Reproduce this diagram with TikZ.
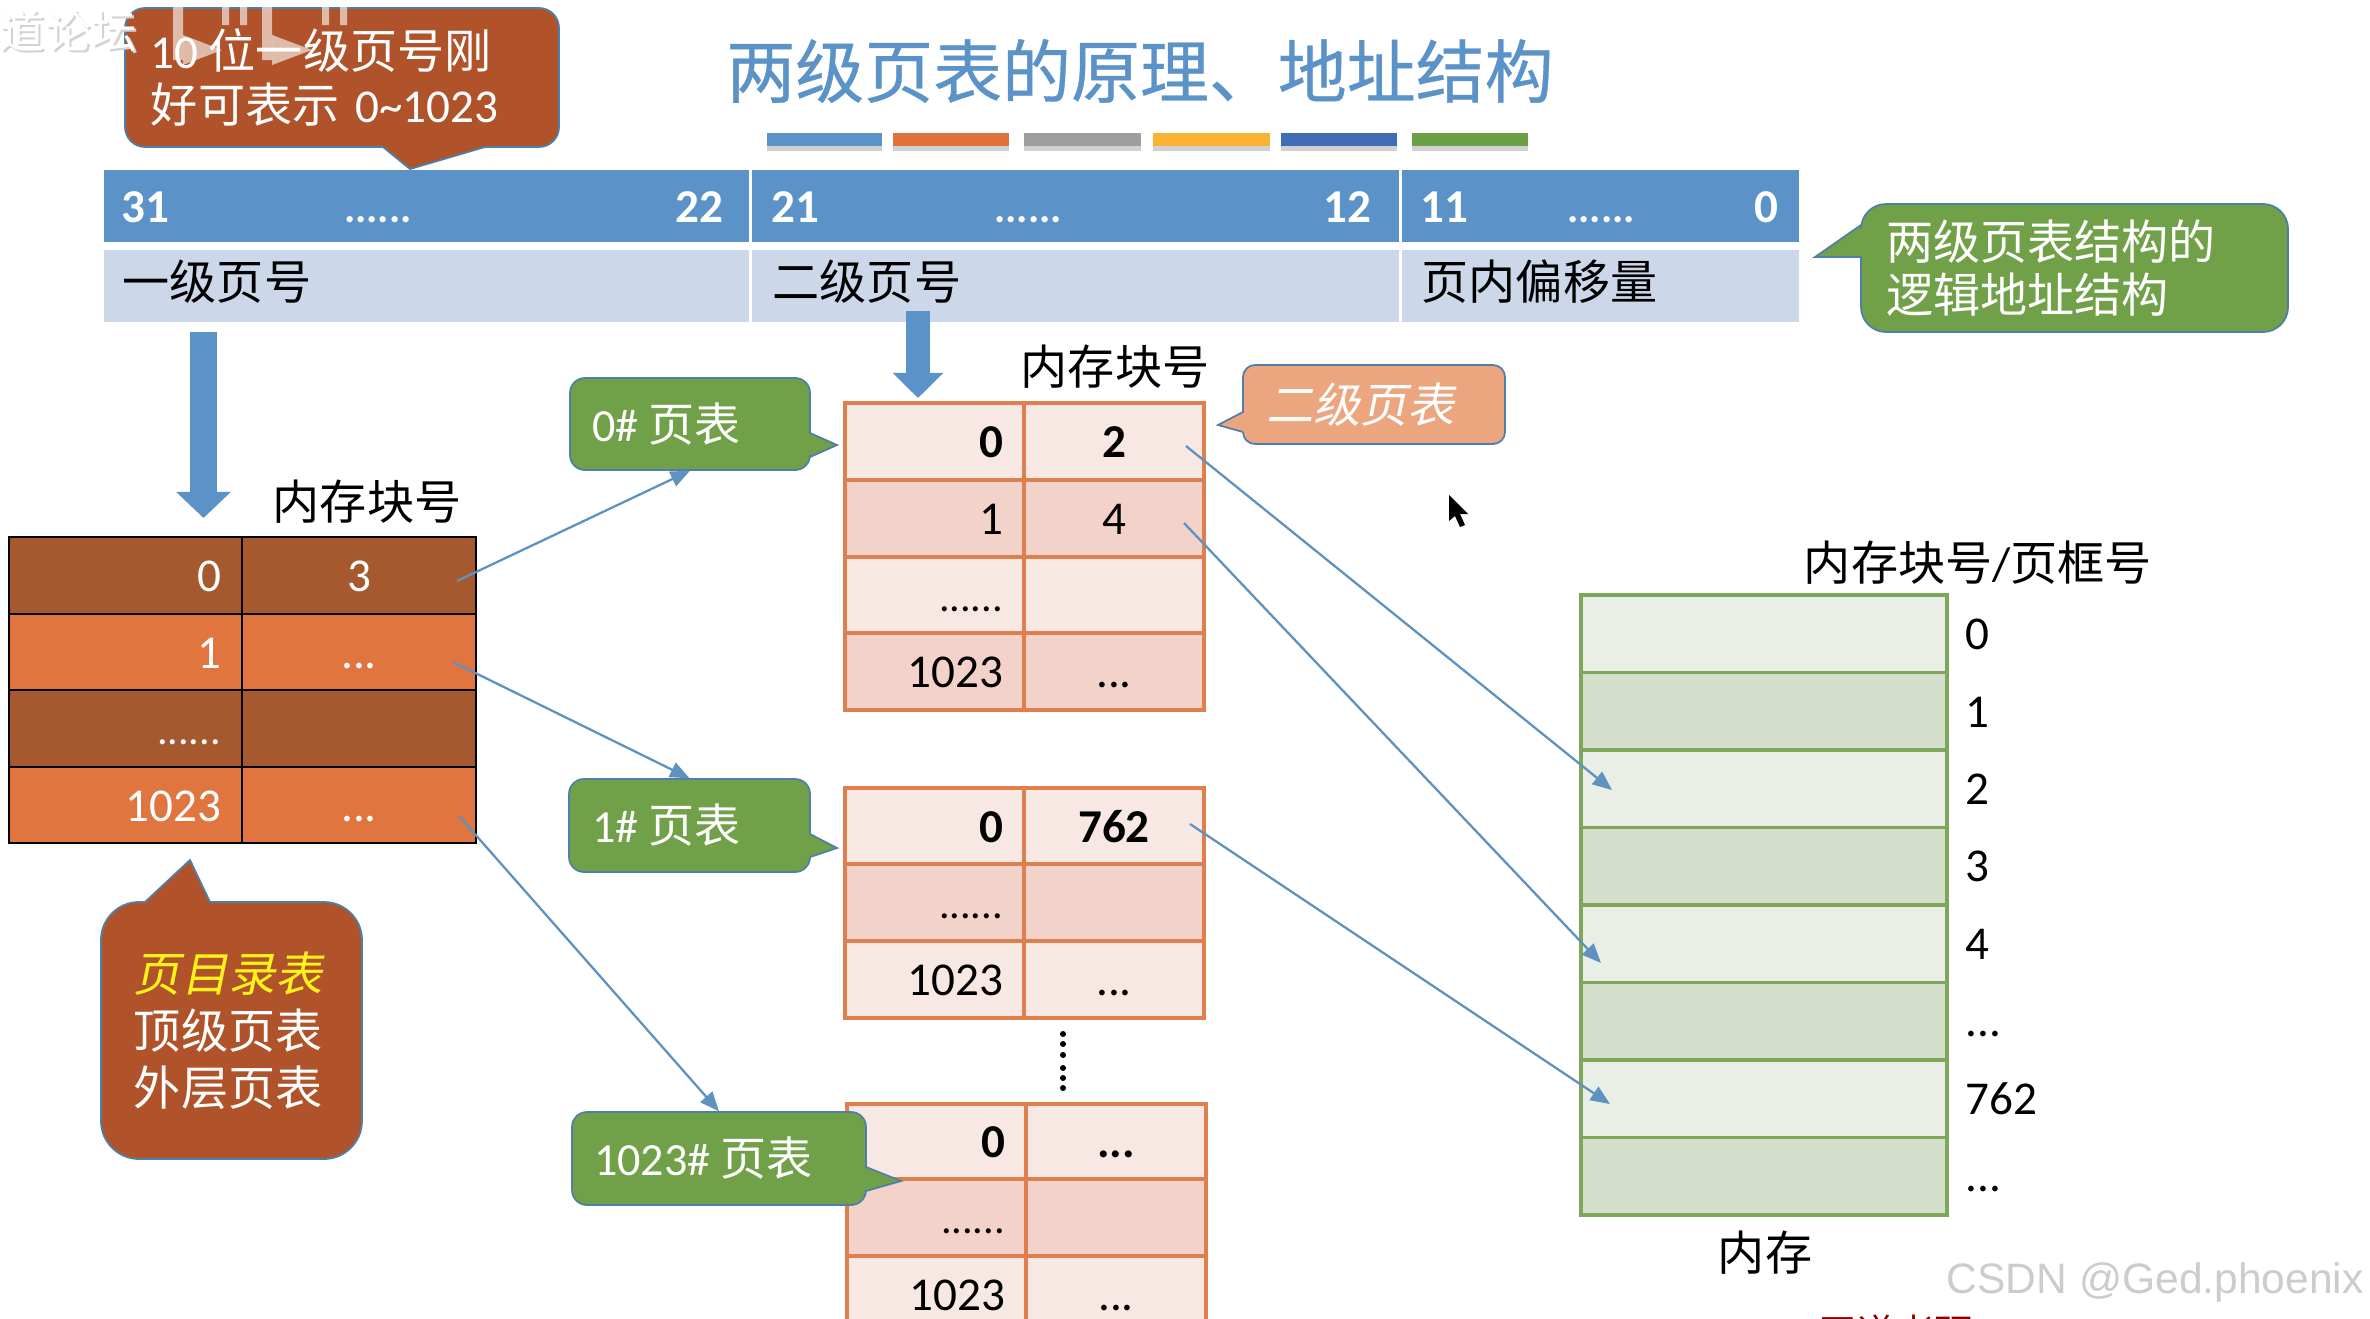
\documentclass[tikz,border=0pt]{standalone}
\usepackage{fontspec}
\usetikzlibrary{arrows.meta}
\setmainfont{Carlito}
\newfontfamily\zhf{Noto Sans CJK SC}
\newfontfamily\zhif[FakeSlant=0.2]{Noto Sans CJK SC}
\newfontfamily\zhbf[FakeBold=0.5]{Noto Sans CJK SC}
\newfontfamily\wmf{Liberation Sans}
\newcommand\zh[1]{{\zhf #1}}
\newcommand\zhi[1]{{\zhif #1}}
\newcommand\sixdots{{\fontsize{12}{16}\selectfont ......}}
\definecolor{hblue}{HTML}{5B93C9}
\definecolor{hlight}{HTML}{CCD8E9}
\definecolor{brownc}{HTML}{B0532A}
\definecolor{edgeb}{HTML}{4F7FA8}
\definecolor{grn}{HTML}{70A047}
\definecolor{orng}{HTML}{EBA67F}
\definecolor{tdark}{HTML}{A6582F}
\definecolor{tlite}{HTML}{E07540}
\definecolor{pkl}{HTML}{F8E8E4}
\definecolor{pkd}{HTML}{F3D2C9}
\definecolor{pke}{HTML}{E07F4E}
\definecolor{mlite}{HTML}{E9EEE6}
\definecolor{mdark}{HTML}{D3DECB}
\definecolor{mline}{HTML}{7FA75C}
\definecolor{lnk}{HTML}{5F92BF}
\definecolor{barA}{HTML}{5B93C9}
\definecolor{barB}{HTML}{E0733C}
\definecolor{barC}{HTML}{9E9E9E}
\definecolor{barD}{HTML}{F9B233}
\definecolor{barE}{HTML}{3F6CB5}
\definecolor{barF}{HTML}{6BA044}
\tikzset{
  every node/.style={inner sep=0pt,font=\fontsize{13.4}{16}\selectfont},
  callout/.style={fill=#1,draw=edgeb,line width=0.5pt},
  link/.style={draw=lnk,line width=0.65pt,-{Triangle[length=5.5pt,width=4.5pt]}},
  blockarrow/.style={draw=hblue,line width=#1},
  blacktable/.style={draw=black,line width=0.75pt,text=white},
  pinktable/.style={draw=pke,line width=0.9pt,text=black},
  memcell/.style={draw=mline,line width=0.9pt},
  hnum/.style={text=white,font=\fontsize{13.4}{16}\selectfont\bfseries},
  plain/.style={text=black},
  ra/.style={align=right},
  ca/.style={align=center}
}
% name, x0, y0, x1, y1, style, text
\newcommand\tcell[7]{%
  \pgfmathsetmacro\cw{(#4-#2)*0.01}%
  \pgfmathsetmacro\ch{(#5-#3)*0.01}%
  \pgfmathsetmacro\tw{(#4-#2)*0.01-0.42}%
  \node[#6,minimum width=\cw cm,minimum height=\ch cm,text width=\tw cm,inner xsep=0.21cm]
     (#1) at ({(#2+#4)/2},{(#3+#5)/2}) {\rule[-3.4pt]{0pt}{16pt}#7};}
% name, x0, y0, x1, y1, pad, extra, text
\newcommand\btext[8]{%
  \pgfmathsetmacro\cw{(#4-#2)*0.01}%
  \pgfmathsetmacro\ch{(#5-#3)*0.01}%
  \pgfmathsetmacro\tw{(#4-#2-2*#6)*0.01}%
  \node[text=white,align=left,minimum width=\cw cm,minimum height=\ch cm,text width=\tw cm,inner xsep=#6*0.01cm,#7]
     (#1) at ({(#2+#4)/2},{(#3+#5)/2}) {#8};}
\newcommand\bararect[3]{%
  \fill[black,opacity=0.18] (#1,137) rectangle (#2,151);
  \fill[#3] (#1,133) rectangle (#2,146);}
\begin{document}
\begin{tikzpicture}[x=0.01cm,y=-0.01cm]
\useasboundingbox (0,0) rectangle (2370,1318);
\clip (0,0) rectangle (2370,1318);
\fill[white] (0,0) rectangle (2370,1318);

% title and bars
\node[text=hblue,font=\fontsize{19.6}{24}\selectfont] (title) at (1140,71) {{\zhbf 两级页表的原理、地址结构}};
\bararect{767}{882}{barA}
\bararect{893}{1009}{barB}
\bararect{1024}{1141}{barC}
\bararect{1153}{1270}{barD}
\bararect{1281}{1397}{barE}
\bararect{1412}{1528}{barF}

% header table
\tcell{ha}{104}{170}{749}{242}{fill=hblue}{}
\tcell{hb}{752}{170}{1399}{242}{fill=hblue}{}
\tcell{hc}{1402}{170}{1799}{242}{fill=hblue}{}
\tcell{la}{104}{250}{749}{322}{fill=hlight}{}
\tcell{lb}{752}{250}{1399}{322}{fill=hlight}{}
\tcell{lc}{1402}{250}{1799}{322}{fill=hlight}{}
\node[hnum,anchor=base west] (n31) at (121,222) {31};
\node[hnum,anchor=base] (d1) at (378,222) {\sixdots};
\node[hnum,anchor=base east] (n22) at (724,222) {22};
\node[hnum,anchor=base west] (n21) at (771,222) {21};
\node[hnum,anchor=base] (d2) at (1028,222) {\sixdots};
\node[hnum,anchor=base east] (n12) at (1372,222) {12};
\node[hnum,anchor=base west] (n11) at (1420,222) {11};
\node[hnum,anchor=base] (d3) at (1601,222) {\sixdots};
\node[hnum,anchor=base east] (n0) at (1779,222) {0};
\node[anchor=west,text=black] (t1) at (122,282) {\zh{一级页号}};
\node[anchor=west,text=black] (t2) at (772,282) {\zh{二级页号}};
\node[anchor=west,text=black] (t3) at (1421,282) {\zh{页内偏移量}};

% page directory
\node[plain] (dirhead) at (367,502) {\zh{内存块号}};
\tcell{d00}{9}{537}{242}{614}{blacktable,fill=tdark,ra}{0}
\tcell{d01}{242}{537}{476}{614}{blacktable,fill=tdark,ca}{3}
\tcell{d10}{9}{614}{242}{690}{blacktable,fill=tlite,ra}{1}
\tcell{d11}{242}{614}{476}{690}{blacktable,fill=tlite,ca}{...}
\tcell{d20}{9}{690}{242}{767}{blacktable,fill=tdark,ra}{\sixdots}
\tcell{d21}{242}{690}{476}{767}{blacktable,fill=tdark,ca}{}
\tcell{d30}{9}{767}{242}{843}{blacktable,fill=tlite,ra}{1023}
\tcell{d31}{242}{767}{476}{843}{blacktable,fill=tlite,ca}{...}

% second level table 0
\node[plain] (p0head) at (1115,367) {\zh{内存块号}};
\tcell{a00}{845}{403}{1024}{480}{pinktable,fill=pkl,ra,font=\fontsize{13.4}{16}\selectfont\bfseries}{0}
\tcell{a01}{1024}{403}{1204}{480}{pinktable,fill=pkl,ca,font=\fontsize{13.4}{16}\selectfont\bfseries}{2}
\tcell{a10}{845}{480}{1024}{557}{pinktable,fill=pkd,ra}{1}
\tcell{a11}{1024}{480}{1204}{557}{pinktable,fill=pkd,ca}{4}
\tcell{a20}{845}{557}{1024}{633}{pinktable,fill=pkl,ra}{\sixdots}
\tcell{a21}{1024}{557}{1204}{633}{pinktable,fill=pkl,ca}{}
\tcell{a30}{845}{633}{1024}{710}{pinktable,fill=pkd,ra}{1023}
\tcell{a31}{1024}{633}{1204}{710}{pinktable,fill=pkd,ca}{...}

% second level table 1
\tcell{b00}{845}{788}{1024}{864}{pinktable,fill=pkl,ra,font=\fontsize{13.4}{16}\selectfont\bfseries}{0}
\tcell{b01}{1024}{788}{1204}{864}{pinktable,fill=pkl,ca,font=\fontsize{13.4}{16}\selectfont\bfseries}{762}
\tcell{b10}{845}{864}{1024}{941}{pinktable,fill=pkd,ra}{\sixdots}
\tcell{b11}{1024}{864}{1204}{941}{pinktable,fill=pkd,ca}{}
\tcell{b20}{845}{941}{1024}{1018}{pinktable,fill=pkl,ra}{1023}
\tcell{b21}{1024}{941}{1204}{1018}{pinktable,fill=pkl,ca}{...}

% vertical dots
\foreach \yy in {1034,1044,1055,1068,1078,1088}
  \fill[black] (1063,\yy) circle[radius=0.03cm];

% second level table 1023
\tcell{c00}{847}{1104}{1026}{1179}{pinktable,fill=pkl,ra,font=\fontsize{13.4}{16}\selectfont\bfseries}{0}
\tcell{c01}{1026}{1104}{1206}{1179}{pinktable,fill=pkl,ca,font=\fontsize{13.4}{16}\selectfont\bfseries}{...}
\tcell{c10}{847}{1179}{1026}{1256}{pinktable,fill=pkd,ra}{\sixdots}
\tcell{c11}{1026}{1179}{1206}{1256}{pinktable,fill=pkd,ca}{}
\tcell{c20}{847}{1256}{1026}{1333}{pinktable,fill=pkl,ra}{1023}
\tcell{c21}{1026}{1256}{1206}{1333}{pinktable,fill=pkl,ca}{...}

% memory
\node[plain] (memhead) at (1978,563) {\zh{内存块号}/\zh{页框号}};
\tcell{m0}{1581}{595}{1947}{672.5}{memcell,fill=mlite}{}
\tcell{m1}{1581}{672.5}{1947}{750}{memcell,fill=mdark}{}
\tcell{m2}{1581}{750}{1947}{827.5}{memcell,fill=mlite}{}
\tcell{m3}{1581}{827.5}{1947}{905}{memcell,fill=mdark}{}
\tcell{m4}{1581}{905}{1947}{982.5}{memcell,fill=mlite}{}
\tcell{m5}{1581}{982.5}{1947}{1060}{memcell,fill=mdark}{}
\tcell{m6}{1581}{1060}{1947}{1137.5}{memcell,fill=mlite}{}
\tcell{m7}{1581}{1137.5}{1947}{1215}{memcell,fill=mdark}{}
\node[plain,anchor=base west] (ml0) at (1965,649) {0};
\node[plain,anchor=base west] (ml1) at (1965,727) {1};
\node[plain,anchor=base west] (ml2) at (1965,804) {2};
\node[plain,anchor=base west] (ml3) at (1965,881) {3};
\node[plain,anchor=base west] (ml4) at (1965,959) {4};
\node[plain,anchor=base west] (ml5) at (1965,1036) {...};
\node[plain,anchor=base west] (ml6) at (1965,1114) {762};
\node[plain,anchor=base west] (ml7) at (1965,1191) {...};
\node[plain] (memcap) at (1765,1253) {\zh{内存}};

% callouts
\path[callout=brownc] (125,78) [rounded corners=0.2cm] -- (125,8) -- (559,8) -- (559,147) [sharp corners] -- (485,147) -- (410,169) -- (383,147) [rounded corners=0.2cm] -- (125,147) -- cycle;
\btext{cA}{125}{8}{559}{147}{26}{font=\fontsize{13.4}{15.6}\selectfont}{10\hspace{0.1cm}\zh{位一级页号刚}\\\zh{好可表示} 0\textasciitilde1023}

\path[callout=brownc] (101,1030) [rounded corners=0.38cm] -- (101,902) [sharp corners] -- (145,902) -- (190,860) -- (210,902) [rounded corners=0.38cm] -- (362,902) -- (362,1159) -- (101,1159) -- cycle;
\btext{cB}{101}{902}{362}{1159}{33}{font=\fontsize{13.4}{16.2}\selectfont}{\textcolor{yellow!90!white}{\zhi{页目录表}}\\\zh{顶级页表}\\\zh{外层页表}}

\path[callout=grn] (690,378) [rounded corners=0.15cm] -- (810,378) [sharp corners] -- (810,433) -- (837,445) -- (810,457) [rounded corners=0.15cm] -- (810,470) -- (570,470) -- (570,378) -- cycle;
\btext{g0}{570}{378}{810}{470}{22}{font=\fontsize{13.1}{16}\selectfont}{0\#\hspace{0.1cm}\zh{页表}}

\path[callout=grn] (690,779) [rounded corners=0.15cm] -- (810,779) [sharp corners] -- (810,834) -- (837,848) -- (810,857) [rounded corners=0.15cm] -- (810,872) -- (569,872) -- (569,779) -- cycle;
\btext{g1}{569}{779}{810}{872}{23}{font=\fontsize{13.1}{16}\selectfont}{1\#\hspace{0.1cm}\zh{页表}}

\path[callout=grn] (719,1112) [rounded corners=0.15cm] -- (866,1112) [sharp corners] -- (866,1167) -- (901,1181) -- (866,1191) [rounded corners=0.15cm] -- (866,1205) -- (572,1205) -- (572,1112) -- cycle;
\btext{g2}{572}{1112}{866}{1205}{22}{font=\fontsize{13.1}{16}\selectfont}{1023\#\hspace{0.1cm}\zh{页表}}

\path[callout=orng] (1374,365) [rounded corners=0.12cm] -- (1505,365) -- (1505,444) -- (1243,444) [sharp corners] -- (1243,432) -- (1218,425) -- (1243,412) [rounded corners=0.12cm] -- (1243,365) -- cycle;
\btext{cO}{1243}{365}{1505}{444}{23}{}{\zhi{二级页表}}

\path[callout=grn] (2070,204) [rounded corners=0.25cm] -- (2288,204) -- (2288,332) -- (1861,332) [sharp corners] -- (1861,257) -- (1815,257) -- (1861,225) [rounded corners=0.25cm] -- (1861,204) -- cycle;
\btext{cG}{1861}{204}{2288}{332}{25}{font=\fontsize{13.4}{15}\selectfont}{\zh{两级页表结构的}\\\zh{逻辑地址结构}}

% block arrows
\coordinate (ba1s) at (203.5,332);
\coordinate (ba1e) at (203.5,518);
\coordinate (ba2s) at (918,311);
\coordinate (ba2e) at (918,398);
\draw[blockarrow=0.26cm,-{Triangle[length=0.26cm,width=0.53cm]}] (ba1s) -- (ba1e);
\draw[blockarrow=0.24cm,-{Triangle[length=0.25cm,width=0.49cm]}] (ba2s) -- (ba2e);

% connectors
\coordinate (s0) at (457,581);
\coordinate (s1) at (453,662);
\coordinate (s2) at (459,816);
\draw[link] (s0) -- (g0.south);
\draw[link] (s1) -- (g1.north);
\draw[link] (s2) -- (g2.north);
\coordinate (s3) at (1186,446);
\coordinate (s4) at (1184,523);
\coordinate (s5) at (1190,824);
\coordinate (e3) at (1612,790);
\coordinate (e4) at (1601,963);
\coordinate (e5) at (1610,1104);
\draw[link] (s3) -- (e3);
\draw[link] (s4) -- (e4);
\draw[link] (s5) -- (e5);

% mouse pointer
\fill[black] (1449,495) -- (1449,521) -- (1455,516) -- (1460,527) -- (1465,525) -- (1460,514) -- (1468,514) -- cycle;

% video watermarks
\node[text=gray!35,anchor=west,font=\fontsize{13}{16}\selectfont] (wm0s) at (1,33) {\zh{道论坛}};
\node[text=white,anchor=west,font=\fontsize{13}{16}\selectfont] (wm0) at (-1,31) {\zh{道论坛}};
\fill[white,opacity=.6] (173,0) rectangle (183,60) (262,0) rectangle (272,60) (222,0) rectangle (229,25) (240,0) rectangle (247,25) (322,0) rectangle (329,25) (340,0) rectangle (347,25);
\fill[white,opacity=.6] (183,35) -- (222,50) -- (183,65) -- cycle (272,35) -- (312,50) -- (272,65) -- cycle;
\node[text=gray!40,anchor=west,font=\wmf\fontsize{12.1}{16}\selectfont] (csdn) at (1946,1282) {CSDN @Ged.phoenix};
\node[text=red!55!black,anchor=west,font=\fontsize{11}{14}\selectfont] (wd) at (1818,1333) {\zh{王道考研}};
\end{tikzpicture}
\end{document}
